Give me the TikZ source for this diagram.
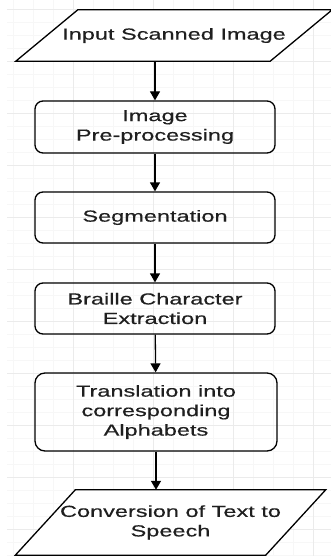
\documentclass[tikz,border=0pt]{standalone}
\usepackage{fontspec}
\setmainfont{Liberation Sans}[FakeStretch=1.47,FakeBold=0.5]
\usepackage{xcolor}
\usetikzlibrary{shapes.geometric,positioning,arrows.meta}

\begin{document}
\begin{tikzpicture}[x=1pt, y=-1pt,
  every node/.style={font=\fontsize{16}{19.5}\selectfont, text=black!88},
  proc/.style={draw, line width=1.3pt, rounded corners=8pt, minimum width=240pt, align=center},
  io/.style={align=center, inner sep=0pt},
  iobox/.style={draw, fill=white, line width=1.3pt},
  arr/.style={line width=1.3pt, -{Triangle[width=10pt,length=9pt]}},
  gridminor/.style={gray!6, line width=0.8pt},
  gridmajor/.style={gray!16, line width=0.8pt}]
  \useasboundingbox (0,0) rectangle (331,556);

  % background grid
  \foreach \x in {13,33,...,331} \draw[gridminor] (\x,0) -- (\x,556);
  \foreach \y in {9,22,...,556} \draw[gridminor] (7,\y) -- (331,\y);
  \foreach \x in {73,153,...,331} \draw[gridmajor] (\x,0) -- (\x,556);
  \foreach \y in {9,61,...,556} \draw[gridmajor] (7,\y) -- (331,\y);

  % input / output parallelograms
  \node[io, minimum width=254pt, minimum height=51pt] (scan) at (174,35.5) {};
  \draw[iobox] ([xshift=-31pt]scan.south west) -- ([xshift=31pt]scan.north west)
    -- ([xshift=31pt]scan.north east) -- ([xshift=-31pt]scan.south east) -- cycle;
  \node[io] at (scan) {Input Scanned Image};

  \node[io, minimum width=250pt, minimum height=65pt] (speech) at (170.5,522.5) {};
  \draw[iobox] ([xshift=-30pt]speech.south west) -- ([xshift=30pt]speech.north west)
    -- ([xshift=30pt]speech.north east) -- ([xshift=-30pt]speech.south east) -- cycle;
  \node[io] at (speech) {Conversion of Text to\\Speech};

  % process steps
  \node[proc, minimum height=52pt] (prep) at (155,127) {Image\\Pre-processing};
  \node[proc, minimum height=51pt] (seg) at (155,217.5) {Segmentation};
  \node[proc, minimum height=51pt] (braille) at (155,308.5) {Braille Character\\Extraction};
  \node[proc, minimum width=242pt, minimum height=78pt, rounded corners=10pt] (trans) at (156,412)
        {Translation into\\corresponding\\Alphabets};

  % connectors
  \draw[arr] (scan.south -| prep.north) -- (prep.north);
  \draw[arr] (prep) -- (seg);
  \draw[arr] (seg) -- (braille);
  \draw[arr] (braille) -- (trans);
  \draw[arr] (trans.south) -- (trans.south |- speech.north);
\end{tikzpicture}
\end{document}
